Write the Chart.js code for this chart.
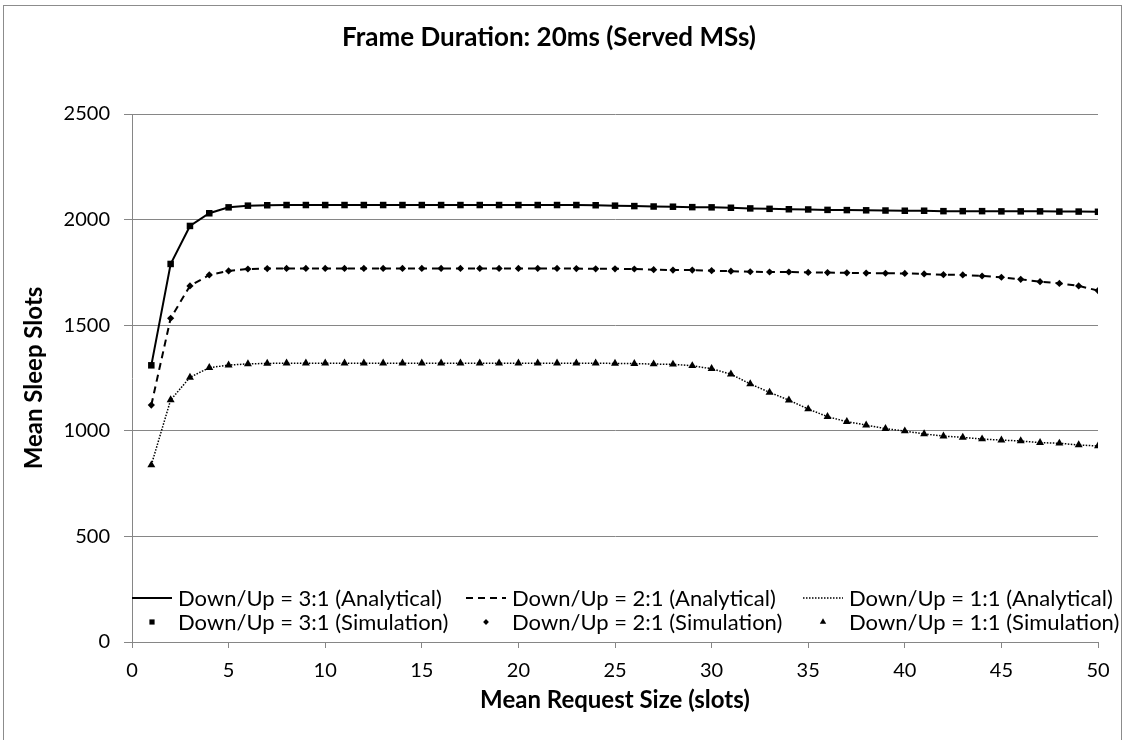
<!DOCTYPE html>
<html>
<head>
<meta charset="utf-8">
<title>Frame Duration: 20ms (Served MSs)</title>
<script src="https://cdn.jsdelivr.net/npm/chart.js@4.4.0/dist/chart.umd.min.js"></script>
<style>
  html, body { margin: 0; padding: 0; background: #fff; overflow: hidden; }
  #frame { position: absolute; left: 3px; top: 5px; width: 1117px; height: 800px; border: 1px solid #8c8c8c; }
  #wrap { position: absolute; left: 0; top: 0; width: 1127px; height: 740px; }
</style>
</head>
<body>
<div id="frame"></div>
<div id="wrap"><canvas id="sleepChart" width="1127" height="740"></canvas></div>
<script>
// mean request size (slots)
const requestSize = [
  1, 2, 3, 4, 5, 6, 7, 8, 9, 10, 11, 12, 13, 14, 15, 16, 17, 18, 19, 20, 21, 22, 23, 24, 25,
  26, 27, 28, 29, 30, 31, 32, 33, 34, 35, 36, 37, 38, 39, 40, 41, 42, 43, 44, 45, 46, 47, 48, 49, 50
];

// mean sleep slots per down/up ratio
const ratio31 = [
  1310, 1790, 1970, 2030, 2058, 2066, 2068, 2069, 2069, 2069, 2069, 2069, 2069, 2069, 2069, 2069, 2069,
  2069, 2069, 2069, 2069, 2069, 2069, 2068, 2066, 2064, 2062, 2061, 2059, 2058, 2056, 2053, 2051, 2049,
  2048, 2046, 2045, 2044, 2043, 2042, 2042, 2040, 2040, 2040, 2039, 2039, 2039, 2038, 2038, 2037
];
const ratio21 = [
  1122, 1533, 1686, 1738, 1757, 1766, 1768, 1769, 1769, 1769, 1769, 1769, 1769, 1769, 1769, 1769, 1769,
  1769, 1769, 1769, 1769, 1769, 1768, 1767, 1767, 1766, 1763, 1761, 1761, 1758, 1756, 1753, 1752, 1752,
  1750, 1749, 1748, 1747, 1746, 1745, 1743, 1739, 1738, 1733, 1727, 1717, 1706, 1698, 1686, 1664
];
const ratio11 = [
  838, 1146, 1253, 1299, 1311, 1317, 1319, 1320, 1320, 1320, 1320, 1320, 1320, 1320, 1320, 1320, 1320,
  1320, 1320, 1320, 1320, 1320, 1320, 1320, 1319, 1318, 1316, 1315, 1308, 1294, 1268, 1222, 1182, 1145,
  1103, 1067, 1043, 1027, 1010, 999, 985, 975, 969, 961, 956, 952, 944, 941, 933, 928
];

const seriesNames = ["Down/Up = 3:1", "Down/Up = 2:1", "Down/Up = 1:1"];
const xTicks = [0, 5, 10, 15, 20, 25, 30, 35, 40, 45, 50];
const yTicks = [0, 500, 1000, 1500, 2000, 2500];

const FONT = "Lato, 'Open Sans', sans-serif";
const GRID = "#868686";

function toPoints(values) {
  return values.map((v, i) => ({ x: requestSize[i], y: v }));
}

function lineSet(name, values, dash, width) {
  return {
    label: name + " (Analytical)",
    data: toPoints(values),
    borderColor: "#000",
    borderWidth: width,
    borderDash: dash,
    pointRadius: 0,
    fill: false,
    tension: 0
  };
}

function markerSet(name, values, style, radius) {
  return {
    label: name + " (Simulation)",
    data: toPoints(values),
    showLine: false,
    pointStyle: style,
    pointRadius: radius,
    pointBackgroundColor: "#000",
    pointBorderColor: "#000",
    pointBorderWidth: 0
  };
}

// legend drawn inside the plot, two rows of three entries
const insideLegend = {
  id: "insideLegend",
  afterDatasetsDraw(chart) {
    const ctx = chart.ctx;
    const cols = [132, 466, 803];
    const rows = [598, 622];
    ctx.save();
    ctx.font = "22px " + FONT;
    ctx.textBaseline = "middle";
    chart.data.datasets.forEach((ds, i) => {
      const x0 = cols[i % 3];
      const y = rows[Math.floor(i / 3)];
      ctx.fillStyle = "#000";
      ctx.strokeStyle = "#000";
      if (ds.showLine === false) {
        Chart.helpers.drawPoint(ctx, {
          pointStyle: ds.pointStyle, radius: ds.pointRadius * 0.8, rotation: 0, borderWidth: 0
        }, x0 + 20, y);
      } else {
        ctx.lineWidth = ds.borderWidth;
        ctx.setLineDash(ds.borderDash || []);
        ctx.beginPath();
        ctx.moveTo(x0, y);
        ctx.lineTo(x0 + 40, y);
        ctx.stroke();
        ctx.setLineDash([]);
      }
      ctx.fillStyle = "#000";
      ctx.fillText(ds.label, x0 + 46, y + 1);
    });
    ctx.restore();
  }
};

new Chart(document.getElementById("sleepChart"), {
  type: "line",
  data: {
    datasets: [
      lineSet(seriesNames[0], ratio31, [], 2),
      lineSet(seriesNames[1], ratio21, [7, 5], 2),
      lineSet(seriesNames[2], ratio11, [1.5, 1.5], 1.5),
      markerSet(seriesNames[0], ratio31, "rect", 4.6),
      markerSet(seriesNames[1], ratio21, "rectRot", 3.6),
      markerSet(seriesNames[2], ratio11, "triangle", 4.6)
    ]
  },
  options: {
    responsive: false,
    animation: false,
    layout: { padding: { left: 0, right: 29, top: 0, bottom: 18 } },
    plugins: {
      legend: { display: false },
      tooltip: { enabled: false },
      title: {
        display: true,
        text: "Frame Duration: 20ms (Served MSs)",
        color: "#000",
        font: { family: FONT, size: 26, weight: "bold" },
        padding: { top: 22.4, bottom: 60.4 }
      }
    },
    scales: {
      x: {
        type: "linear",
        min: xTicks[0],
        max: xTicks[xTicks.length - 1],
        afterBuildTicks: (scale) => { scale.ticks = xTicks.map(v => ({ value: v })); },
        afterFit: (scale) => { scale.height = 80; },
        border: { color: GRID, width: 1 },
        grid: { drawOnChartArea: false, drawTicks: true, tickLength: 6, color: GRID },
        ticks: { color: "#000", padding: 11, maxRotation: 0, font: { family: FONT, size: 20 } },
        title: {
          display: true,
          text: "Mean Request Size (slots)",
          color: "#000",
          font: { family: FONT, size: 24, weight: "bold" },
          padding: { top: 0, bottom: 7.6 }
        }
      },
      y: {
        min: yTicks[0],
        max: yTicks[yTicks.length - 1],
        afterBuildTicks: (scale) => { scale.ticks = yTicks.map(v => ({ value: v })); },
        afterFit: (scale) => { scale.width = 132; },
        border: { color: GRID, width: 1 },
        grid: { color: GRID, lineWidth: 1, tickLength: 8 },
        ticks: {
          color: "#000",
          padding: 14,
          font: { family: FONT, size: 20 },
          callback: (v) => String(v)
        },
        title: {
          display: true,
          text: "Mean Sleep Slots",
          color: "#000",
          font: { family: FONT, size: 24, weight: "bold" },
          padding: { top: 19.6, bottom: 0 }
        }
      }
    }
  },
  plugins: [insideLegend]
});
</script>
</body>
</html>
